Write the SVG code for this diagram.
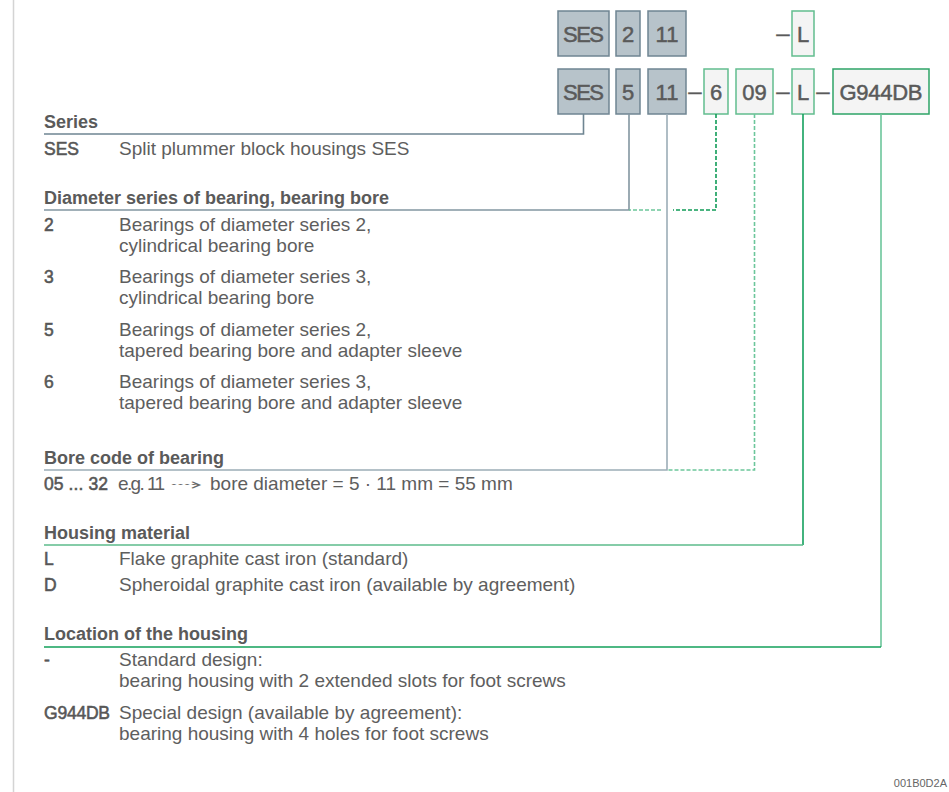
<svg xmlns="http://www.w3.org/2000/svg" width="949" height="792" viewBox="0 0 949 792">
<style>
text{font-family:"Liberation Sans",Arial,sans-serif;fill:#5e5e5e}
.h{font-size:18px;font-weight:bold;fill:#5a5a5a}
.t{font-size:19px}
.c{font-size:17.5px;fill:#575757;stroke:#575757;stroke-width:0.55}
.bx{font-size:22px;fill:#5a5a5a;stroke:#5a5a5a;stroke-width:0.5;text-anchor:middle}
.dash{font-size:24px;fill:#5a5a5a;stroke:#5a5a5a;stroke-width:0.3;text-anchor:middle}
.g{fill:#b7c3ca;stroke:#6f8592;stroke-width:1.5}
.w{fill:#f4f4f4;stroke:#62bd8e;stroke-width:1.5}
.wd{fill:#f4f4f4;stroke:#2ea467;stroke-width:1.5}
.ln{fill:none;stroke-width:1.6}
.ds{fill:none;stroke-width:1.6;stroke-dasharray:4 2}
</style>
<line x1="13.5" y1="0" x2="13.5" y2="792" stroke="#d4d4d4" stroke-width="1.5"/>
<g id="code-top">
<g id="top-SES"><rect class="g" x="558" y="11" width="51" height="45"/><text class="bx" x="583.5" y="41.5" textLength="41">SES</text></g>
<g id="top-2"><rect class="g" x="616" y="11" width="24" height="45"/><text class="bx" x="628" y="41.5">2</text></g>
<g id="top-11"><rect class="g" x="648" y="11" width="38" height="45"/><text class="bx" x="667" y="41.5">11</text></g>
<text class="dash" x="783" y="41">–</text>
<g id="top-L"><rect class="w" x="792" y="11" width="22" height="45"/><text class="bx" x="803" y="41.5">L</text></g>
</g>
<g id="code-bottom">
<g id="n-SES"><rect class="g" x="558" y="69" width="51" height="45"/><text class="bx" x="583.5" y="99.5" textLength="41">SES</text></g>
<g id="n-5"><rect class="g" x="616" y="69" width="24" height="45"/><text class="bx" x="628" y="99.5">5</text></g>
<g id="n-11"><rect class="g" x="648" y="69" width="38" height="45"/><text class="bx" x="667" y="99.5">11</text></g>
<text class="dash" x="695" y="99">–</text>
<g id="n-6"><rect class="w" x="704" y="69" width="24" height="45"/><text class="bx" x="716" y="99.5">6</text></g>
<g id="n-09"><rect class="w" x="736" y="69" width="37" height="45"/><text class="bx" x="754.5" y="99.5">09</text></g>
<text class="dash" x="783" y="99">–</text>
<g id="n-L"><rect class="w" x="792" y="69" width="22" height="45"/><text class="bx" x="803" y="99.5">L</text></g>
<text class="dash" x="823" y="99">–</text>
<g id="n-G944DB"><rect class="wd" x="833" y="69" width="96" height="45"/><text class="bx" x="881" y="99.5" textLength="83">G944DB</text></g>
</g>
<g id="connectors">
<polyline class="ln" stroke="#6f8592" points="583.5,114 583.5,134 44,134"/>
<polyline class="ln" stroke="#8396a1" points="629,114 629,210 44,210"/>
<polyline class="ds" stroke="#0f9c57" points="716,114 716,210 673,210"/>
<line class="ds" stroke="#6cc69b" x1="661" y1="210" x2="629" y2="210"/>
<polyline class="ln" stroke="#9cadb7" points="667,114 667,470 44,470"/>
<polyline class="ds" stroke="#6cc69b" points="754.5,114 754.5,470 667,470"/>
<polyline class="ln" stroke="#13a05d" points="803,114 803,545"/>
<line class="ln" stroke="#5cbb8b" x1="803" y1="545" x2="44" y2="545"/>
<polyline class="ln" stroke="#6cc69b" points="881,114 881,647"/>
<line class="ln" stroke="#12a05a" x1="881" y1="647" x2="44" y2="647"/>
</g>
<g id="series">
<text class="h" x="44" y="128">Series</text>
<text class="c" x="44" y="155">SES</text>
<text class="t" x="119" y="155">Split plummer block housings SES</text>
</g>
<g id="diameter">
<text class="h" x="44" y="204">Diameter series of bearing, bearing bore</text>
<text class="c" x="44" y="231">2</text>
<text class="t" x="119" y="231">Bearings of diameter series 2,</text>
<text class="t" x="119" y="252">cylindrical bearing bore</text>
<text class="c" x="44" y="283">3</text>
<text class="t" x="119" y="283">Bearings of diameter series 3,</text>
<text class="t" x="119" y="304">cylindrical bearing bore</text>
<text class="c" x="44" y="336">5</text>
<text class="t" x="119" y="336">Bearings of diameter series 2,</text>
<text class="t" x="119" y="357">tapered bearing bore and adapter sleeve</text>
<text class="c" x="44" y="388">6</text>
<text class="t" x="119" y="388">Bearings of diameter series 3,</text>
<text class="t" x="119" y="409">tapered bearing bore and adapter sleeve</text>
</g>
<g id="bore">
<text class="h" x="44" y="464">Bore code of bearing</text>
<text class="c" x="44" y="490" textLength="64">05 ... 32</text>
<text class="t" x="118" y="490" textLength="47">e.g. 11</text>
<text x="170" y="489" font-family="DejaVu Sans" font-size="17" textLength="34" lengthAdjust="spacingAndGlyphs" style="fill:#6a6a6a">⤑</text>
<text class="t" x="210" y="490">bore diameter = 5 · 11 mm = 55 mm</text>
</g>
<g id="material">
<text class="h" x="44" y="539">Housing material</text>
<text class="c" x="44" y="565">L</text>
<text class="t" x="119" y="565">Flake graphite cast iron (standard)</text>
<text class="c" x="44" y="591">D</text>
<text class="t" x="119" y="591">Spheroidal graphite cast iron (available by agreement)</text>
</g>
<g id="location">
<text class="h" x="44" y="640">Location of the housing</text>
<text class="c" x="44" y="666">-</text>
<text class="t" x="119" y="666">Standard design:</text>
<text class="t" x="119" y="687">bearing housing with 2 extended slots for foot screws</text>
<text class="c" x="44" y="719" textLength="66">G944DB</text>
<text class="t" x="119" y="719">Special design (available by agreement):</text>
<text class="t" x="119" y="740">bearing housing with 4 holes for foot screws</text>
</g>
<text x="947" y="787" font-size="11" text-anchor="end" style="fill:#666">001B0D2A</text>
</svg>
